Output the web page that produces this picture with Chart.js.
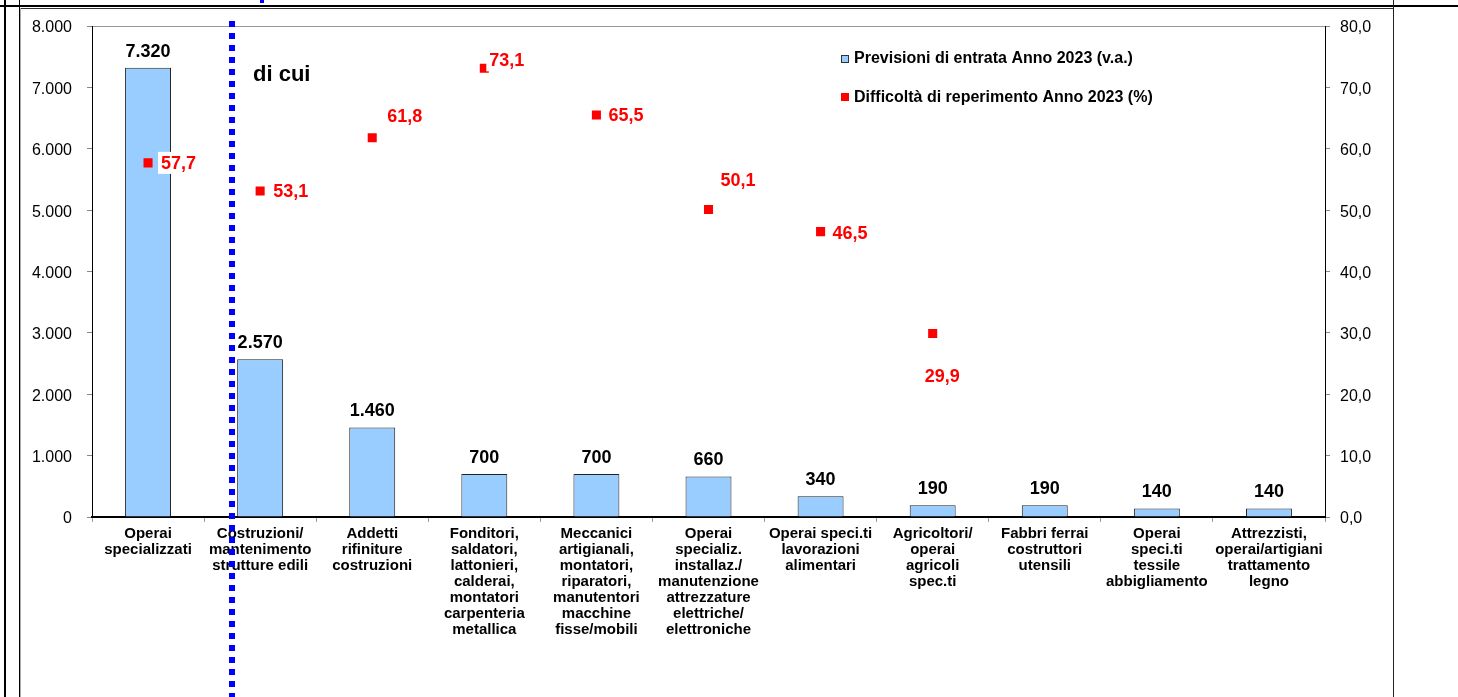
<!DOCTYPE html>
<html>
<head>
<meta charset="utf-8">
<script src="https://cdn.jsdelivr.net/npm/chart.js@4/dist/chart.umd.min.js"></script>
<style>
  html, body { margin: 0; padding: 0; background: #fff; }
  #chart { display: block; }
</style>
</head>
<body>
<canvas id="chart" width="1458" height="697"></canvas>
<script>
// categorie (etichette asse x su più righe)
const categories = [
  ['Operai', 'specializzati'],
  ['Costruzioni/', 'mantenimento', 'strutture edili'],
  ['Addetti', 'rifiniture', 'costruzioni'],
  ['Fonditori,', 'saldatori,', 'lattonieri,', 'calderai,', 'montatori', 'carpenteria', 'metallica'],
  ['Meccanici', 'artigianali,', 'montatori,', 'riparatori,', 'manutentori', 'macchine', 'fisse/mobili'],
  ['Operai', 'specializ.', 'installaz./', 'manutenzione', 'attrezzature', 'elettriche/', 'elettroniche'],
  ['Operai speci.ti', 'lavorazioni', 'alimentari'],
  ['Agricoltori/', 'operai', 'agricoli', 'spec.ti'],
  ['Fabbri ferrai', 'costruttori', 'utensili'],
  ['Operai', 'speci.ti', 'tessile', 'abbigliamento'],
  ['Attrezzisti,', 'operai/artigiani', 'trattamento', 'legno']
];
const entrate = [7320, 2570, 1460, 700, 700, 660, 340, 190, 190, 140, 140];
const difficolta = [57.7, 53.1, 61.8, 73.1, 65.5, 50.1, 46.5, 29.9, null, null, null];
const seriesNames = ['Previsioni di entrata Anno 2023 (v.a.)', 'Difficoltà di reperimento Anno 2023 (%)'];
const leftAxis = { min: 0, max: 8000, step: 1000 };
const rightAxis = { min: 0, max: 80, step: 10 };

// spostamento etichette rosse rispetto al marker
const diffLabelOffsets = [[13, 0], [13, 0], [15, -22], [5, -8], [12, 0], [12, -29], [12, 1], [-8, 43]];

const fontMain = '"Liberation Sans", Arial, sans-serif';

const fmtInt = n => String(n).replace(/\B(?=(\d{3})+(?!\d))/g, '.');
const fmtDec = v => v.toFixed(1).replace('.', ',');

const decorations = {
  id: 'decorations',
  beforeDraw(chart) {
    const ctx = chart.ctx;
    ctx.save();
    ctx.fillStyle = '#fff';
    ctx.fillRect(0, 0, chart.width, chart.height);
    ctx.fillStyle = '#000';
    ctx.fillRect(0, 5, 1458, 2);
    ctx.fillStyle = '#333';
    ctx.fillRect(19, 8, 1374, 1);
    ctx.fillStyle = '#000';
    ctx.fillRect(4, 0, 2, 697);
    ctx.fillRect(19, 0, 1, 697);
    ctx.fillStyle = '#aaa';
    ctx.fillRect(20, 8, 1, 689);
    ctx.fillStyle = '#222';
    ctx.fillRect(1393, 0, 1, 697);
    ctx.restore();
  },
  afterDatasetsDraw(chart) {
    const ctx = chart.ctx;
    ctx.save();
    // valori barre
    const barMeta = chart.getDatasetMeta(1);
    ctx.font = 'bold 18px ' + fontMain;
    ctx.fillStyle = '#000';
    ctx.textAlign = 'center';
    ctx.textBaseline = 'middle';
    barMeta.data.forEach((bar, i) => {
      ctx.fillText(fmtInt(entrate[i]), bar.x, bar.y - 16);
    });
    // valori difficoltà
    const ptMeta = chart.getDatasetMeta(0);
    ctx.textAlign = 'left';
    ptMeta.data.forEach((pt, i) => {
      if (difficolta[i] == null) return;
      const [dx, dy] = diffLabelOffsets[i];
      const txt = fmtDec(difficolta[i]);
      const w = ctx.measureText(txt).width;
      const x = pt.x + dx, y = pt.y + dy;
      ctx.fillStyle = '#fff';
      ctx.fillRect(x - 3, y - 11, w + 6, 22);
      ctx.fillStyle = '#ff0000';
      ctx.fillText(txt, x, y + 1);
    });
    // legenda
    ctx.font = 'bold 16px ' + fontMain;
    ctx.fillStyle = '#99ccff';
    ctx.fillRect(841, 55, 8, 8);
    ctx.strokeStyle = '#333';
    ctx.lineWidth = 1;
    ctx.strokeRect(841.5, 55.5, 7, 7);
    ctx.fillStyle = '#000';
    ctx.fillText(seriesNames[0], 854, 59);
    ctx.fillStyle = '#ff0000';
    ctx.fillRect(841, 93, 8, 8);
    ctx.fillStyle = '#000';
    ctx.fillText(seriesNames[1], 854, 98);
    // di cui
    ctx.font = 'bold 22px ' + fontMain;
    ctx.fillText('di cui', 253, 75);
    ctx.restore();
  },
  afterDraw(chart) {
    const ctx = chart.ctx;
    const x = Math.round(chart.scales.x.getPixelForValue(0.75));
    ctx.save();
    ctx.strokeStyle = '#0000ff';
    ctx.lineWidth = 6;
    ctx.setLineDash([6, 6]);
    ctx.beginPath();
    ctx.moveTo(x, 21);
    ctx.lineTo(x, 697);
    ctx.stroke();
    ctx.fillStyle = '#0000ff';
    ctx.fillRect(x + 28, 0, 4, 3);
    ctx.restore();
  }
};

new Chart(document.getElementById('chart'), {
  data: {
    labels: categories,
    datasets: [
      {
        type: 'line',
        label: seriesNames[1],
        data: difficolta,
        yAxisID: 'y1',
        showLine: false,
        pointStyle: 'rect',
        pointRadius: 6.4,
        pointBackgroundColor: '#ff0000',
        pointBorderWidth: 0,
        borderColor: '#ff0000',
        order: 0
      },
      {
        type: 'bar',
        label: seriesNames[0],
        data: entrate,
        yAxisID: 'y',
        backgroundColor: '#99ccff',
        borderColor: '#222',
        borderWidth: 1,
        barPercentage: 0.41,
        categoryPercentage: 1,
        order: 1
      }
    ]
  },
  options: {
    responsive: false,
    animation: false,
    layout: { padding: { top: 26, left: 0, right: 0, bottom: 0 } },
    plugins: {
      legend: { display: false },
      tooltip: { enabled: false }
    },
    scales: {
      x: {
        offset: true,
        grid: { offset: true, drawOnChartArea: false, tickLength: 5, tickColor: '#999' },
        border: { color: '#000', width: 2 },
        ticks: {
          color: '#000',
          font: { family: fontMain, size: 15, weight: 'bold', lineHeight: 1.07 },
          padding: 4,
          maxRotation: 0,
          autoSkip: false
        },
        afterFit(scale) { scale.height = 180; }
      },
      y: {
        position: 'left',
        min: leftAxis.min,
        max: leftAxis.max,
        grid: {
          color: ctx => (ctx.tick && ctx.tick.value === leftAxis.max ? '#999' : 'rgba(0,0,0,0)'),
          tickColor: '#888',
          tickLength: 5
        },
        border: { color: '#000', width: 1 },
        ticks: {
          stepSize: leftAxis.step,
          color: '#000',
          padding: 15,
          labelOffset: 2,
          font: { family: fontMain, size: 16 },
          callback: v => fmtInt(v)
        },
        afterFit(scale) { scale.width = 92; }
      },
      y1: {
        position: 'right',
        min: rightAxis.min,
        max: rightAxis.max,
        grid: { drawOnChartArea: false, tickColor: '#888', tickLength: 5 },
        border: { color: '#000', width: 1 },
        ticks: {
          stepSize: rightAxis.step,
          color: '#000',
          padding: 10,
          labelOffset: 2,
          font: { family: fontMain, size: 16 },
          callback: v => fmtDec(v)
        },
        afterFit(scale) { scale.width = 133; }
      }
    }
  },
  plugins: [decorations]
});
</script>
</body>
</html>
